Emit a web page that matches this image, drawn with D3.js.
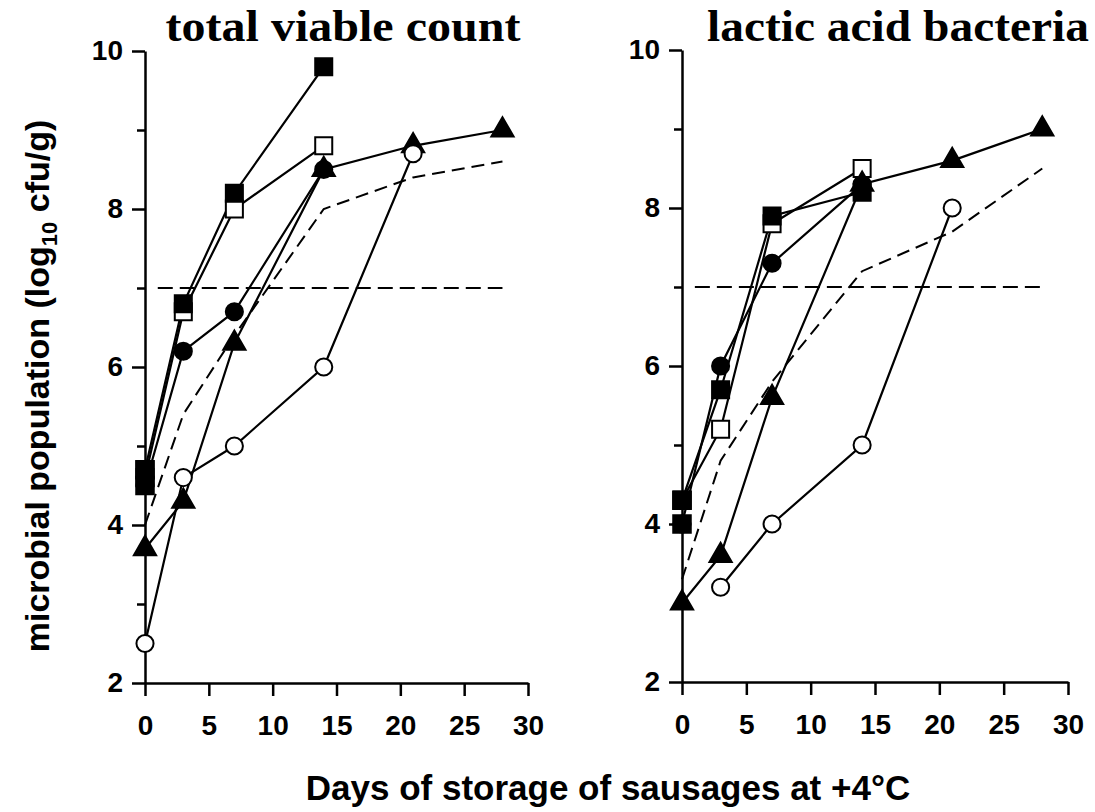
<!DOCTYPE html>
<html>
<head>
<meta charset="utf-8">
<script src="https://cdn.jsdelivr.net/npm/d3@7"></script>
<style>
  body { margin: 0; background: #fff; }
  svg { display: block; }
</style>
</head>
<body>
<div class="canvas"></div>
<script>
// sampling days
const daysShort = [0, 3, 7, 14];
const daysLong = [0, 3, 7, 14, 21, 28];
const daysOpenLeft = [0, 3, 7, 14, 21];
const daysOpenRight = [3, 7, 14, 21];

// total viable count (log10 cfu/g)
const tvcFilledSquare = [4.7, 6.8, 8.2, 9.8];
const tvcOpenSquare = [4.6, 6.7, 8.0, 8.8];
const tvcFilledCircle = [4.5, 6.2, 6.7, 8.5];
const tvcFilledTriangle = [3.7, 4.3, 6.3, 8.5, 8.8, 9.0];
const tvcOpenCircle = [2.5, 4.6, 5.0, 6.0, 8.7];
const tvcDashed = [4.0, 5.4, 6.4, 8.0, 8.4, 8.6];
const tvcDay0Squares = [4.5, 4.7];

// lactic acid bacteria (log10 cfu/g)
const labFilledSquare = [4.3, 5.7, 7.9, 8.2];
const labOpenSquare = [4.3, 5.2, 7.8, 8.5];
const labFilledCircle = [4.0, 6.0, 7.3, 8.3];
const labFilledTriangle = [3.0, 3.6, 5.6, 8.3, 8.6, 9.0];
const labOpenCircle = [3.2, 4.0, 5.0, 8.0];
const labDashed = [3.3, 4.8, 5.8, 7.2, 7.7, 8.5];
const labDay0Squares = [4.0, 4.3];

// spoilage limit
const limitValue = 7;
const limitDays = [1, 28];

const xTicks = [0, 5, 10, 15, 20, 25, 30];
const yTicks = [2, 4, 6, 8, 10];
const yMinorTicks = [3, 5, 7, 9];

const dims = {width: 1095, height: 812};
const sans = "'Liberation Sans', Arial, sans-serif";

const svg = d3.select(".canvas").append("svg")
    .attr("width", dims.width)
    .attr("height", dims.height);

const zip = (days, vals) => days.map((d, i) => ({day: d, val: vals[i]}));

const panels = [
    {
        title: "total viable count", titleX: 343, titleW: 355,
        left: 145, right: 528, bottom: 683, top: 51,
        series: [
            {pts: zip(daysShort, tvcOpenSquare), shape: "square", fill: "#fff"},
            {pts: zip(daysShort, tvcFilledCircle), shape: "circle", fill: "#000"},
            {pts: zip(daysLong, tvcFilledTriangle), shape: "triangle", fill: "#000"},
            {pts: zip(daysOpenLeft, tvcOpenCircle), shape: "circle", fill: "#fff"},
            {pts: zip(daysShort, tvcFilledSquare), shape: "square", fill: "#000"}
        ],
        dashed: zip(daysLong, tvcDashed),
        day0: tvcDay0Squares
    },
    {
        title: "lactic acid bacteria", titleX: 898, titleW: 382,
        left: 682, right: 1068, bottom: 682, top: 50,
        series: [
            {pts: zip(daysShort, labFilledCircle), shape: "circle", fill: "#000"},
            {pts: zip(daysShort, labOpenSquare), shape: "square", fill: "#fff"},
            {pts: zip(daysLong, labFilledTriangle), shape: "triangle", fill: "#000"},
            {pts: zip(daysOpenRight, labOpenCircle), shape: "circle", fill: "#fff"},
            {pts: zip(daysShort, labFilledSquare), shape: "square", fill: "#000"}
        ],
        dashed: zip(daysLong, labDashed),
        day0: labDay0Squares
    }
];

const symbols = {
    square: d3.symbol().type(d3.symbolSquare).size(290),
    circle: d3.symbol().type(d3.symbolCircle).size(230),
    triangle: d3.symbol().type(d3.symbolTriangle).size(215)
};

panels.forEach(p => {

    const x = d3.scaleLinear().domain([0, 30]).range([p.left, p.right]);
    const y = d3.scaleLinear().domain([2, 10]).range([p.bottom, p.top]);

    const g = svg.append("g");

    // minor y ticks
    g.append("g")
        .attr("transform", `translate(${p.left},0)`)
        .call(d3.axisLeft(y).tickValues(yMinorTicks).tickSize(8).tickFormat(""))
        .call(a => a.select(".domain").remove())
        .selectAll("line").attr("stroke-width", 2.5);

    const yAxis = g.append("g")
        .attr("transform", `translate(${p.left},0)`)
        .call(d3.axisLeft(y).tickValues(yTicks).tickSize(13).tickSizeOuter(0).tickPadding(9));

    const xAxis = g.append("g")
        .attr("transform", `translate(0,${p.bottom})`)
        .call(d3.axisBottom(x).tickValues(xTicks).tickSize(13).tickSizeOuter(0).tickPadding(19));

    [yAxis, xAxis].forEach(a => {
        a.attr("font-size", 28)
         .attr("font-family", sans)
         .attr("font-weight", "bold");
        a.select(".domain").attr("stroke-width", 2.5);
        a.selectAll("line").attr("stroke-width", 2.5);
        a.selectAll("text").attr("fill", "#000");
    });

    // title
    svg.append("text")
        .attr("x", p.titleX)
        .attr("y", 41)
        .attr("text-anchor", "middle")
        .attr("font-family", "'Liberation Serif', 'Times New Roman', serif")
        .attr("font-weight", "bold")
        .attr("font-size", 45)
        .attr("textLength", p.titleW)
        .attr("lengthAdjust", "spacingAndGlyphs")
        .text(p.title);

    const line = d3.line().x(d => x(d.day)).y(d => y(d.val));

    // spoilage limit line
    g.append("path")
        .attr("d", line(limitDays.map(d => ({day: d, val: limitValue}))))
        .attr("fill", "none")
        .attr("stroke", "#000")
        .attr("stroke-width", 2)
        .attr("stroke-dasharray", "15,7");

    // dashed curve
    g.append("path")
        .attr("d", line(p.dashed))
        .attr("fill", "none")
        .attr("stroke", "#000")
        .attr("stroke-width", 2)
        .attr("stroke-dasharray", "13,7");

    // series lines
    p.series.forEach(s => {
        g.append("path")
            .attr("d", line(s.pts))
            .attr("fill", "none")
            .attr("stroke", "#000")
            .attr("stroke-width", 2.2);
    });

    // markers
    p.series.forEach(s => {
        g.selectAll(null)
            .data(s.pts)
            .enter()
            .append("path")
            .attr("d", symbols[s.shape])
            .attr("transform", d => `translate(${x(d.day)},${y(d.val)})`)
            .attr("fill", s.fill)
            .attr("stroke", "#000")
            .attr("stroke-width", 2);
    });

    // overlapping day-0 squares
    g.selectAll(null)
        .data(p.day0)
        .enter()
        .append("path")
        .attr("d", symbols.square)
        .attr("transform", d => `translate(${x(0)},${y(d)})`)
        .attr("fill", "#000")
        .attr("stroke", "#000")
        .attr("stroke-width", 2.5);
});

// shared axis labels
svg.append("text")
    .attr("transform", "translate(49,386) rotate(-90)")
    .attr("text-anchor", "middle")
    .attr("font-family", sans)
    .attr("font-weight", "bold")
    .attr("font-size", 34)
    .call(t => {
        t.append("tspan").text("microbial population (log");
        t.append("tspan").attr("font-size", 22).attr("dy", 8).text("10");
        t.append("tspan").attr("dy", -8).text(" cfu/g)");
    });

svg.append("text")
    .attr("x", 608)
    .attr("y", 800)
    .attr("text-anchor", "middle")
    .attr("font-family", sans)
    .attr("font-weight", "bold")
    .attr("font-size", 35)
    .text("Days of storage of sausages at +4°C");
</script>
</body>
</html>
